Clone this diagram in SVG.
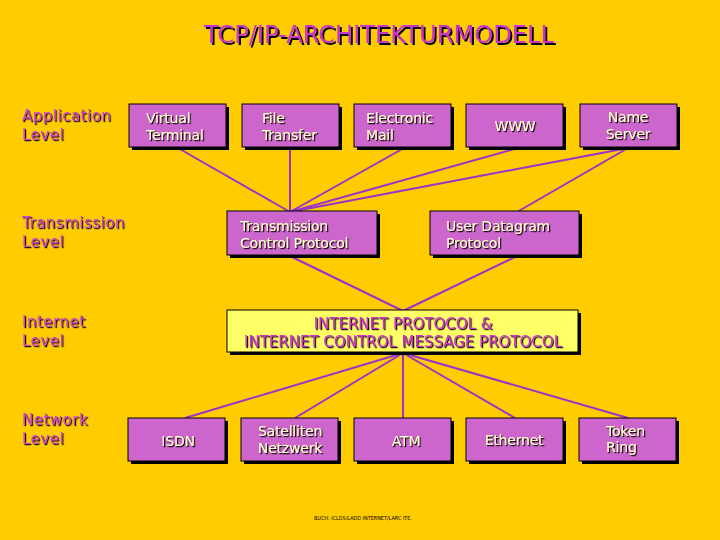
<svg xmlns="http://www.w3.org/2000/svg" width="720" height="540" viewBox="0 0 720 540">
<defs>
<filter id="sh" x="-5%" y="-20%" width="110%" height="140%">
<feDropShadow dx="1.2" dy="1.2" stdDeviation="0" flood-color="#000" flood-opacity="1"/>
</filter>
<filter id="sh2" x="-5%" y="-20%" width="110%" height="140%">
<feDropShadow dx="2" dy="2" stdDeviation="0" flood-color="#000" flood-opacity="1"/>
</filter>
</defs>
<style>
.bg{fill:#FFCC00}
.box{fill:#CC66CC;stroke:#000;stroke-width:1}
.ip{fill:#FFFF66;stroke:#000;stroke-width:1}
.shd{fill:#000}
.t{font-family:"DejaVu Sans",sans-serif;font-size:14px;fill:#FFFFCC;filter:url(#sh);letter-spacing:-0.2px}
.lvl{font-family:"DejaVu Sans",sans-serif;font-size:15px;fill:#CC44CC;filter:url(#sh);letter-spacing:0.5px}
.ipt{font-family:"DejaVu Sans",sans-serif;font-size:15px;fill:#CC33CC;filter:url(#sh)}
.title{font-family:"DejaVu Sans",sans-serif;font-size:24px;fill:#CC33CC;filter:url(#sh2)}
.c{stroke:#9933CC;stroke-width:2;fill:none}
.m{text-anchor:middle}
</style>
<rect class="bg" x="0" y="0" width="720" height="540"/>
<text class="title m" x="379" y="43" textLength="350" lengthAdjust="spacingAndGlyphs">TCP/IP-ARCHITEKTURMODELL</text>

<g id="labels">
<text class="lvl" x="22" y="121">Application</text>
<text class="lvl" x="22" y="140">Level</text>
<text class="lvl" x="22" y="228">Transmission</text>
<text class="lvl" x="22" y="247">Level</text>
<text class="lvl" x="22" y="327">Internet</text>
<text class="lvl" x="22" y="346">Level</text>
<text class="lvl" x="22" y="425">Network</text>
<text class="lvl" x="22" y="444">Level</text>
</g>

<g id="connectors">
<line class="c" x1="178" y1="148" x2="290" y2="212"/>
<line class="c" x1="290" y1="148" x2="290" y2="212"/>
<line class="c" x1="404" y1="148" x2="290" y2="212"/>
<line class="c" x1="518" y1="148" x2="290" y2="212"/>
<line class="c" x1="628" y1="148" x2="290" y2="212"/>
<line class="c" x1="628" y1="148" x2="517" y2="212"/>
<line class="c" x1="290" y1="256" x2="403" y2="311"/>
<line class="c" x1="517" y1="256" x2="403" y2="311"/>
<line class="c" x1="403" y1="353" x2="185" y2="418"/>
<line class="c" x1="403" y1="353" x2="295" y2="418"/>
<line class="c" x1="403" y1="353" x2="403" y2="418"/>
<line class="c" x1="403" y1="353" x2="515" y2="418"/>
<line class="c" x1="403" y1="353" x2="628" y2="418"/>
</g>

<g id="n-vt">
<rect class="shd" x="132" y="107" width="97" height="43"/>
<rect class="box" x="129" y="104" width="97" height="43"/>
<text class="t" x="146" y="123">Virtual</text>
<text class="t" x="146" y="140">Terminal</text>
</g>
<g id="n-ft">
<rect class="shd" x="245" y="107" width="97" height="43"/>
<rect class="box" x="242" y="104" width="97" height="43"/>
<text class="t" x="262" y="123">File</text>
<text class="t" x="262" y="140">Transfer</text>
</g>
<g id="n-em">
<rect class="shd" x="357" y="107" width="97" height="43"/>
<rect class="box" x="354" y="104" width="97" height="43"/>
<text class="t" x="366" y="123">Electronic</text>
<text class="t" x="366" y="140">Mail</text>
</g>
<g id="n-www">
<rect class="shd" x="469" y="107" width="97" height="43"/>
<rect class="box" x="466" y="104" width="97" height="43"/>
<text class="t m" x="515" y="131">WWW</text>
</g>
<g id="n-ns">
<rect class="shd" x="583" y="107" width="97" height="43"/>
<rect class="box" x="580" y="104" width="97" height="43"/>
<text class="t m" x="628" y="122">Name</text>
<text class="t m" x="628" y="139">Server</text>
</g>

<g id="n-tcp">
<rect class="shd" x="230" y="214" width="150" height="44"/>
<rect class="box" x="227" y="211" width="150" height="44"/>
<text class="t" x="240" y="231">Transmission</text>
<text class="t" x="240" y="248">Control Protocol</text>
</g>
<g id="n-udp">
<rect class="shd" x="433" y="214" width="149" height="44"/>
<rect class="box" x="430" y="211" width="149" height="44"/>
<text class="t" x="446" y="231">User Datagram</text>
<text class="t" x="446" y="248">Protocol</text>
</g>

<g id="n-ip">
<rect class="shd" x="230" y="313" width="351" height="42"/>
<rect class="ip" x="227" y="310" width="351" height="42"/>
<text class="ipt m" x="403" y="329">INTERNET PROTOCOL &amp;</text>
<text class="ipt m" x="403" y="347" textLength="318" lengthAdjust="spacingAndGlyphs">INTERNET CONTROL MESSAGE PROTOCOL</text>
</g>

<g id="n-isdn">
<rect class="shd" x="131" y="421" width="97" height="43"/>
<rect class="box" x="128" y="418" width="97" height="43"/>
<text class="t m" x="178" y="446">ISDN</text>
</g>
<g id="n-sat">
<rect class="shd" x="244" y="421" width="97" height="43"/>
<rect class="box" x="241" y="418" width="97" height="43"/>
<text class="t m" x="290" y="436">Satelliten</text>
<text class="t m" x="290" y="453">Netzwerk</text>
</g>
<g id="n-atm">
<rect class="shd" x="357" y="421" width="97" height="43"/>
<rect class="box" x="354" y="418" width="97" height="43"/>
<text class="t m" x="406" y="446">ATM</text>
</g>
<g id="n-eth">
<rect class="shd" x="469" y="421" width="97" height="43"/>
<rect class="box" x="466" y="418" width="97" height="43"/>
<text class="t m" x="514" y="445">Ethernet</text>
</g>
<g id="n-tr">
<rect class="shd" x="582" y="421" width="97" height="43"/>
<rect class="box" x="579" y="418" width="97" height="43"/>
<text class="t" x="606" y="436">Token</text>
<text class="t" x="606" y="452">Ring</text>
</g>

<text x="314" y="520" font-family="DejaVu Sans, sans-serif" font-size="5.5" fill="#000" textLength="98" lengthAdjust="spacingAndGlyphs">BUCH: ICLDS/LADD INTERNET/LARC ITE.</text>
</svg>
